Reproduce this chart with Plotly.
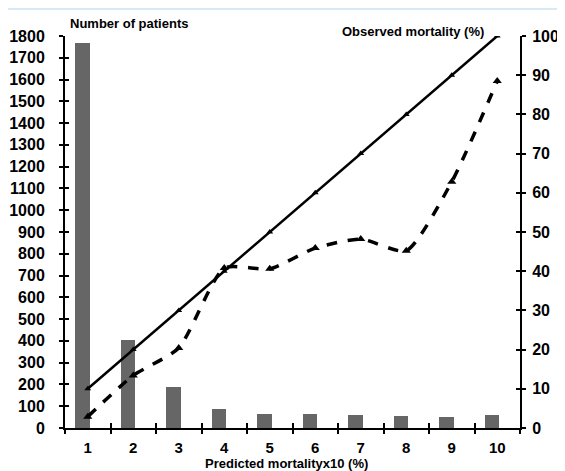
import plotly.graph_objects as go

categories = [1, 2, 3, 4, 5, 6, 7, 8, 9, 10]
tick_labels = ["1", "2", "3", "4", "5", "6", "7", "8", "9", "10"]
patients = [1770, 403, 188, 89, 63, 66, 58, 55, 50, 58]
predicted = [10, 20, 30, 40, 50, 60, 70, 80, 90, 100]
observed = [2.9, 13.4, 20.4, 40.8, 40.6, 45.9, 48.2, 45.2, 62.8, 88.5]
left_ticks = list(range(0, 1801, 100))
right_ticks = list(range(0, 101, 10))
boundaries = [c - 0.5 for c in categories] + [categories[-1] + 0.5]

FONT = "Liberation Sans"
fig = go.Figure()

fig.add_trace(go.Bar(x=categories, y=patients, width=0.32, offset=-0.28,
                     marker=dict(color="#666666", line=dict(width=0)),
                     showlegend=False, hoverinfo="skip"))
fig.add_trace(go.Scatter(x=categories, y=predicted, yaxis="y2", mode="lines+markers",
                         line=dict(color="black", width=2.5),
                         marker=dict(symbol="triangle-up", size=6, color="black"),
                         showlegend=False))
fig.add_trace(go.Scatter(x=categories, y=observed, yaxis="y2", mode="lines+markers",
                         line=dict(color="black", width=3.5, dash="dash", shape="spline", smoothing=0.6),
                         marker=dict(symbol="triangle-up", size=8, color="black"),
                         showlegend=False))
# empty traces to register overlay axes (tick marks crossing the axes)
for xa, ya in [("x3", "y"), ("x4", "y"), ("x", "y3"), ("x", "y4")]:
    fig.add_trace(go.Scatter(x=[], y=[], xaxis=xa, yaxis=ya, showlegend=False))

tickfont = dict(family=FONT, size=16, color="black", weight="bold")
xtickfont = dict(family=FONT, size=15, color="black", weight="bold")
titlefont = dict(family=FONT, size=13, color="black", weight="bold")
common = dict(showgrid=False, zeroline=False, automargin=False)

fig.update_layout(
    width=557, height=463,
    margin=dict(l=57, r=45, t=28, b=43),
    paper_bgcolor="white", plot_bgcolor="white",
    bargap=0,
    xaxis=dict(range=[0.5, 10.5], tickvals=categories, ticktext=tick_labels, ticks="",
               showline=True, linecolor="black", linewidth=2, tickfont=xtickfont,
               ticklabelstandoff=5, **common),
    xaxis3=dict(range=[0.5, 10.5], overlaying="x", anchor="y", tickvals=boundaries,
                ticks="outside", ticklen=5, tickwidth=2, tickcolor="black",
                showticklabels=False, showline=False, **common),
    xaxis4=dict(range=[0.5, 10.5], overlaying="x", anchor="y", tickvals=boundaries,
                ticks="inside", ticklen=5, tickwidth=2, tickcolor="black",
                showticklabels=False, showline=False, **common),
    yaxis=dict(range=[0, 1800], tickvals=left_ticks, ticks="outside", ticklen=4, tickwidth=2,
               tickcolor="black", showline=True, linecolor="black", linewidth=2,
               tickfont=tickfont, ticklabelstandoff=11, **common),
    yaxis3=dict(range=[0, 1800], overlaying="y", side="left", anchor="x", tickvals=left_ticks,
                ticks="inside", ticklen=4, tickwidth=2, tickcolor="black",
                showticklabels=False, showline=False, **common),
    yaxis2=dict(range=[0, 100], overlaying="y", side="right", anchor="x", tickvals=right_ticks,
                ticks="outside", ticklen=4, tickwidth=2, tickcolor="black",
                showline=True, linecolor="black", linewidth=2,
                tickfont=tickfont, ticklabelstandoff=3, **common),
    yaxis4=dict(range=[0, 100], overlaying="y", side="right", anchor="x", tickvals=right_ticks,
                ticks="inside", ticklen=4, tickwidth=2, tickcolor="black",
                showticklabels=False, showline=False, **common),
    annotations=[
        dict(text="Number of patients", xref="paper", yref="paper", x=0.0066, y=1.033,
             xanchor="left", yanchor="middle", showarrow=False, font=titlefont),
        dict(text="Observed mortality (%)", xref="paper", yref="paper", x=0.925, y=1.011,
             xanchor="right", yanchor="middle", showarrow=False, font=titlefont),
        dict(text="Predicted mortalityx10 (%)", xref="paper", yref="paper", x=0.486, y=-0.091,
             xanchor="center", yanchor="middle", showarrow=False, font=titlefont),
    ],
    shapes=[dict(type="line", xref="paper", yref="paper", x0=-0.2, x1=1.2, y0=1.069, y1=1.069,
                 line=dict(color="#d8eaf6", width=2))],
)

fig.write_html("out.html")
